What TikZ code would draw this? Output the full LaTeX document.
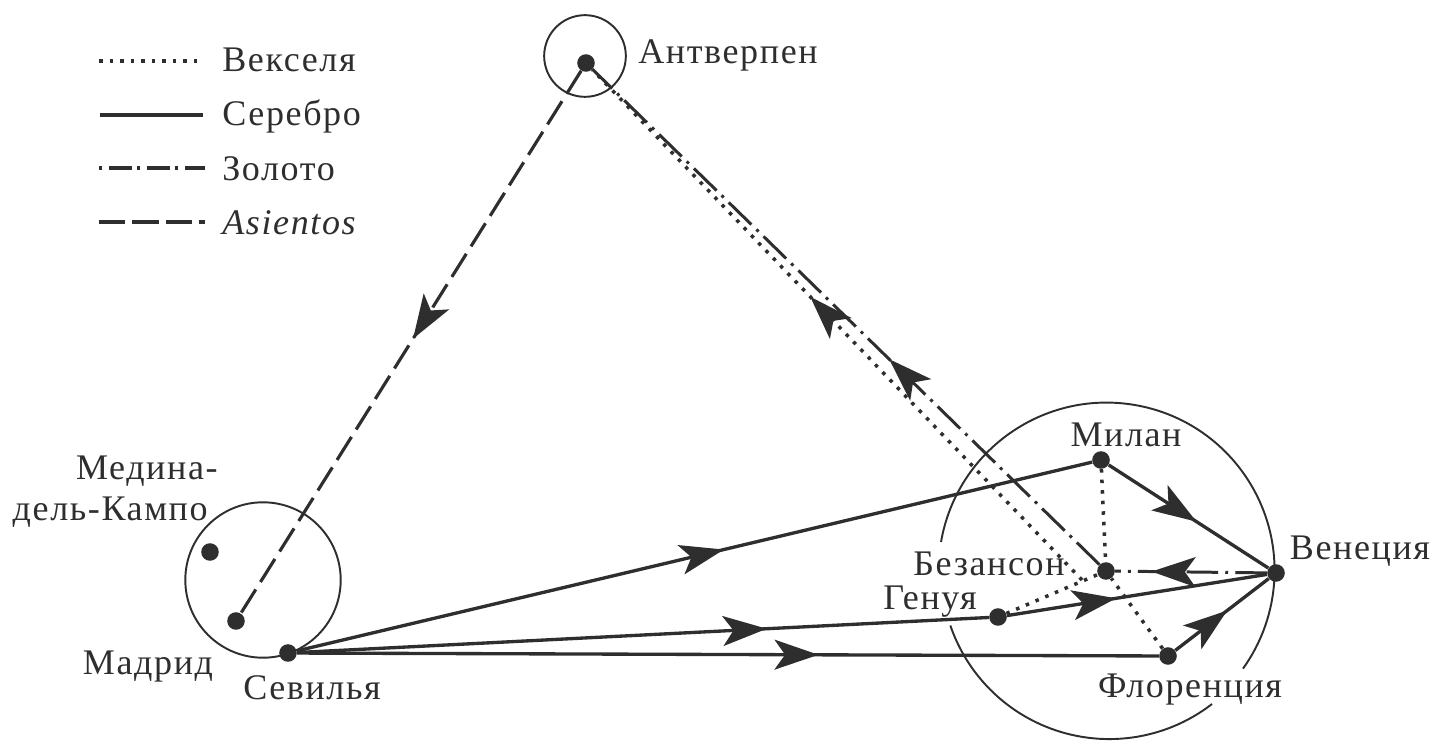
\documentclass[tikz,border=0pt]{standalone}
\usepackage{fontspec}
\setmainfont[LetterSpace=4.5]{Liberation Serif}
\usetikzlibrary{arrows.meta}
\usetikzlibrary{decorations.markings}
\definecolor{ink}{HTML}{2E2E2E}
\tikzset{
  city/.style={circle,fill=ink,inner sep=0pt,minimum size=10pt},
  lbl/.style={font=\fontsize{20.5}{24}\selectfont,text=ink,inner sep=0pt,anchor=base},
  ring/.style={draw=ink,line width=1.1pt,circle,inner sep=0pt},
  rim/.style={draw=ink,line width=1.1pt},
  silver/.style={draw=ink,line width=1.9pt},
  bills/.style={draw=ink,line width=2pt,dash pattern=on 2pt off 4pt},
  gold/.style={draw=ink,line width=1.7pt,dash pattern=on 18pt off 4pt on 1.7pt off 4pt},
  asiento/.style={draw=ink,line width=1.8pt,dash pattern=on 15.5pt off 5pt},
  goldkey/.style={draw=ink,line width=1.8pt,dash pattern=on 1.7pt off 4pt on 13pt off 3pt},
  midarrow/.style={postaction={decorate},decoration={markings,
    mark=at position #1 with {\arrow{Stealth[length=25pt,width=17pt,inset=6pt]}}}},
}
\begin{document}
\begin{tikzpicture}[x=0.02cm,y=-0.02cm]
\useasboundingbox (0,0) rectangle (1435,743);
% cities
\node[city] (antwerp) at (586,63) {};
\node[city] (medina) at (210,552) {};
\node[city] (madrid) at (236,621) {};
\node[city] (seville) at (288,653) {};
\node[city] (milan) at (1101,460) {};
\node[city] (venice) at (1276,573) {};
\node[city] (besancon) at (1106,571) {};
\node[city] (genoa) at (998,617) {};
\node[city] (florence) at (1168,656) {};
\coordinate (billsend) at (1082,580);
% circles
\node[ring,minimum size=82*0.567pt] (antwerpring) at (585,56) {};
\node[ring,minimum size=156*0.567pt] (spainring) at (263,580) {};
\draw[rim] (941,542) arc[start angle=189.8,end angle=395.7,radius=168];
\draw[rim] (1212,704) arc[start angle=52.3,end angle=161.1,radius=168];
% labels
\node[lbl] (antwerplbl) at (728,64) {Антверпен};
\node[lbl,anchor=base east] (medinalbl) at (218,479) {Медина-};
\node[lbl,anchor=base east] (campolbl) at (208,520) {дель-Кампо};
\node[lbl] (madridlbl) at (148,674) {Мадрид};
\node[lbl] (sevillelbl) at (312,699) {Севилья};
\node[lbl] (milanlbl) at (1126,446) {Милан};
\node[lbl] (venicelbl) at (1360,559) {Венеция};
\node[lbl] (besanconlbl) at (989,575) {Безансон};
\node[lbl] (genoalbl) at (930,609) {Генуя};
\node[lbl] (florencelbl) at (1190,697) {Флоренция};
% silver
\draw[silver,midarrow=.537] (seville) -- (milan);
\draw[silver,midarrow=.679] (seville) -- (genoa);
\draw[silver,midarrow=.605] (seville) -- (florence);
\draw[silver,midarrow=.55] (milan) -- (venice);
\draw[silver,midarrow=.42] (genoa) -- (venice);
\draw[silver,midarrow=.556] (florence) -- (venice);
% bills
\draw[bills] (milan) -- (besancon);
\draw[bills] (genoa) -- (besancon);
\draw[bills] (florence) -- (besancon);
\draw[bills,midarrow=.555] (billsend) -- (antwerp);
% gold
\draw[gold,midarrow=.76] (venice) -- (besancon);
\draw[gold,midarrow=.415] (besancon) -- (antwerp);
% asientos
\draw[asiento,midarrow=.494] (antwerp) -- (madrid);
% legend
\coordinate (k1a) at (99,61);
\coordinate (k1b) at (203,61);
\coordinate (k2a) at (100,115);
\coordinate (k2b) at (203,115);
\coordinate (k3a) at (99,168);
\coordinate (k3b) at (205,168);
\coordinate (k4a) at (99,222);
\coordinate (k4b) at (205,222);
\draw[bills] (k1a) -- (k1b);
\draw[silver] (k2a) -- (k2b);
\draw[goldkey] (k3a) -- (k3b);
\draw[draw=ink,line width=1.8pt,dash pattern=on 15pt off 4pt] (k4a) -- (k4b);
\node[lbl,anchor=base west] (key1) at (222,72) {Векселя};
\node[lbl,anchor=base west] (key2) at (222,126) {Серебро};
\node[lbl,anchor=base west] (key3) at (222,180) {Золото};
\node[lbl,anchor=base west] (key4) at (222,234) {\itshape Asientos};
\end{tikzpicture}
\end{document}
